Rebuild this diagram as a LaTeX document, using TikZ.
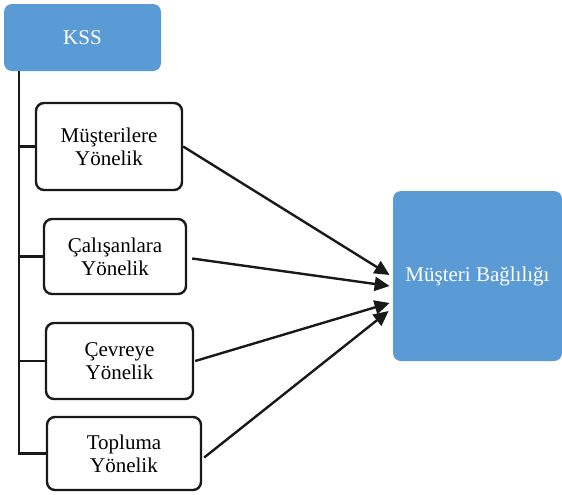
\documentclass[tikz,border=0pt]{standalone}
\usepackage{fontspec}
\setmainfont{Liberation Serif}
\usepackage{tikz}
\usetikzlibrary{arrows.meta}
\definecolor{kssblue}{RGB}{91,155,213}

\begin{document}
\begin{tikzpicture}[x=0.5pt,y=-0.5pt,
  bluebox/.style={fill=kssblue,draw=none,rounded corners=4pt,text=white,
    align=center,font=\fontsize{10.5}{11.5}\selectfont},
  subbox/.style={draw=black!90,line width=1.2pt,rounded corners=4pt,fill=white,
    align=center,font=\fontsize{10.5}{11.5}\selectfont},
  tree/.style={draw=black!90,line width=1.3pt},
  link/.style={draw=black!90,line width=1.2pt,-{Triangle[length=7.5pt,width=7pt]}}]
\useasboundingbox (0,0) rectangle (562,494);
% top box and target
\node [bluebox,minimum width=78.5pt,minimum height=33.5pt] (kss) at (82.5,37.5) {KSS};
\node [bluebox,minimum width=84.5pt,minimum height=85pt] (mb) at (477.5,276) {Müşteri Bağlılığı};
% dimensions
\node [subbox,minimum width=73pt,minimum height=43.5pt] (mus) at (109,146.5) {Müşterilere\\Yönelik};
\node [subbox,minimum width=71pt,minimum height=37.5pt] (cal) at (115,256.5) {Çalışanlara\\Yönelik};
\node [subbox,minimum width=73.5pt,minimum height=38pt] (cev) at (119.5,361) {Çevreye\\Yönelik};
\node [subbox,minimum width=77pt,minimum height=36.5pt] (top) at (124,453.5) {Topluma\\Yönelik};
% tree lines
\coordinate (spine) at (19,71);
\draw [tree] (spine) -- (spine |- top.west) -- (top.west);
\draw [tree] (spine |- mus.west) -- (mus.west);
\draw [tree] (spine |- cal.west) -- (cal.west);
\draw [tree] (spine |- cev.west) -- (cev.west);
% arrows
\draw [link] (mus.east) -- ([xshift=-1.5pt,yshift=0.5pt]mb.west);
\draw [link] ([xshift=2.5pt,yshift=-1pt]cal.east) -- ([xshift=-1.5pt,yshift=-5pt]mb.west);
\draw [link] ([xshift=0.5pt]cev.east) -- ([xshift=-1.5pt,yshift=-13.5pt]mb.west);
\draw [link] ([xshift=1pt,yshift=-2pt]top.east) -- ([xshift=-2pt,yshift=-17.5pt]mb.west);
\end{tikzpicture}
\end{document}
